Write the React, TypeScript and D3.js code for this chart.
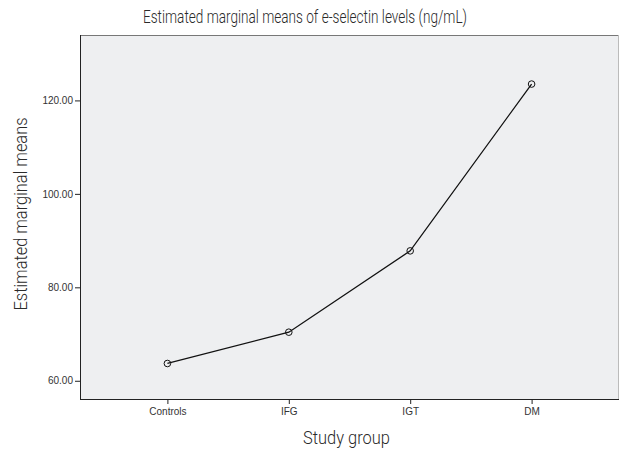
import React from 'react';
import * as d3 from 'd3';

const groups = ['Controls', 'IFG', 'IGT', 'DM'];
const means = [63.7, 70.4, 87.8, 123.5];
const yTicks = [60, 80, 100, 120];

const W = 620;
const H = 450;
const margin = { top: 35, right: 1, bottom: 51, left: 80 };

const App: React.FC = () => {
  const svgRef = React.useRef<SVGSVGElement>(null);

  React.useEffect(() => {
    const innerW = W - margin.left - margin.right;
    const innerH = H - margin.top - margin.bottom;

    const x = d3.scalePoint<string>().domain(groups).range([0, innerW]).padding(0.72);
    const y = d3.scaleLinear().domain([56.1, 134]).range([innerH, 0]);

    const svgEl = d3.select(svgRef.current);
    svgEl.selectAll('*').remove();

    const cond = '"Liberation Sans Narrow", Roboto, Arial, sans-serif';
    const tickFont = 'Arial, "Liberation Sans", sans-serif';

    // titles use a light narrow face, stretched to the reference widths
    const addLabel = (txt: string, len: number) =>
      svgEl
        .append('text')
        .attr('text-anchor', 'middle')
        .attr('font-family', cond)
        .attr('font-size', 18)
        .attr('font-weight', 300)
        .attr('fill', '#2a2a2a')
        .attr('textLength', len)
        .attr('lengthAdjust', 'spacingAndGlyphs')
        .text(txt);

    addLabel('Estimated marginal means of e-selectin levels (ng/mL)', 324)
      .attr('x', 305)
      .attr('y', 23);

    const g = svgEl.append('g').attr('transform', `translate(${margin.left},${margin.top})`);

    // plot background + frame
    g.append('rect')
      .attr('width', innerW)
      .attr('height', innerH)
      .attr('fill', '#eeeff1');
    g.append('line')
      .attr('x1', 0).attr('x2', innerW).attr('y1', 0.5).attr('y2', 0.5)
      .attr('stroke', '#777');
    g.append('line')
      .attr('x1', innerW - 0.5).attr('x2', innerW - 0.5).attr('y1', 0).attr('y2', innerH)
      .attr('stroke', '#bbb');

    // y axis
    const yAxis = d3
      .axisLeft(y)
      .tickValues(yTicks)
      .tickSize(5)
      .tickPadding(2)
      .tickFormat((v) => d3.format('.2f')(v as number));
    const yG = g.append('g').call(yAxis);
    yG.select('.domain').attr('stroke', '#222').attr('d', `M0.5,0V${innerH}`);
    yG.selectAll('line').attr('stroke', '#222');
    yG.selectAll('text')
      .attr('font-family', tickFont)
      .attr('font-size', 10)
      .attr('fill', '#333');

    // x axis
    const xAxis = d3.axisBottom(x).tickSize(5).tickPadding(4);
    const xG = g.append('g').attr('transform', `translate(0,${innerH})`).call(xAxis);
    xG.select('.domain').attr('stroke', '#222').attr('d', `M0,0.5H${innerW}`);
    xG.selectAll('line').attr('stroke', '#222');
    xG.selectAll('text')
      .attr('font-family', tickFont)
      .attr('font-size', 10)
      .attr('fill', '#333');

    // axis titles
    addLabel('Study group', 87).attr('x', 346.5).attr('y', 444);
    addLabel('Estimated marginal means', 193).attr('transform', 'translate(27,214) rotate(-90)');

    // line + markers
    const pts: [number, number][] = groups.map((grp, i) => [x(grp) as number, y(means[i])]);
    const line = d3.line();
    g.append('path')
      .attr('d', line(pts))
      .attr('fill', 'none')
      .attr('stroke', '#111')
      .attr('stroke-width', 1.3);
    g.selectAll('.pt')
      .data(pts)
      .enter()
      .append('circle')
      .attr('cx', (d) => d[0])
      .attr('cy', (d) => d[1])
      .attr('r', 3.3)
      .attr('fill', 'none')
      .attr('stroke', '#111')
      .attr('stroke-width', 1);
  }, []);

  return (
    <svg
      ref={svgRef}
      width={W}
      height={H}
      style={{ position: 'absolute', left: 0, top: 0, display: 'block' }}
    />
  );
};

export default App;
